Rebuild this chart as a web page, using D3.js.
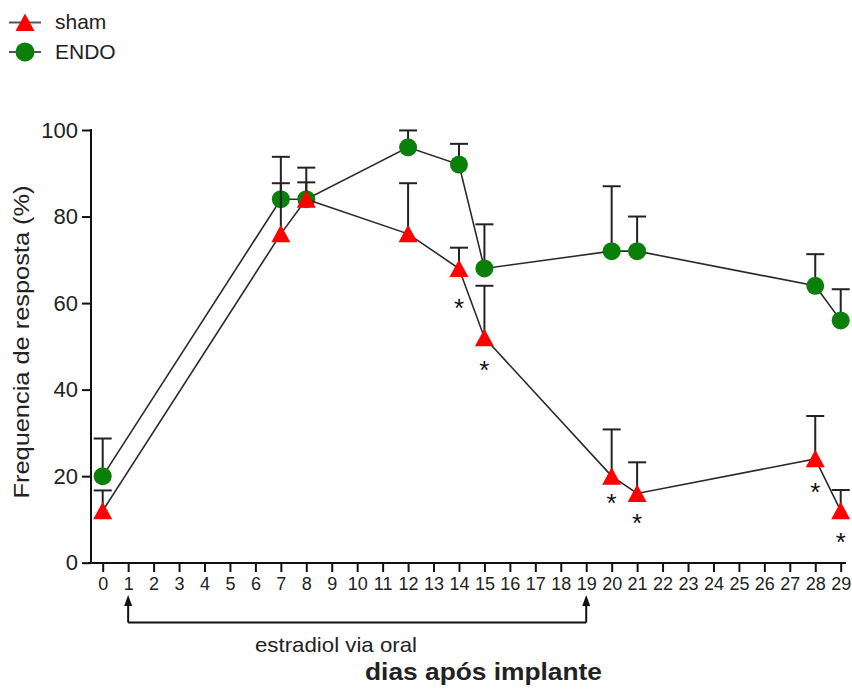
<!DOCTYPE html>
<html>
<head>
<meta charset="utf-8">
<script src="https://cdn.jsdelivr.net/npm/d3@7"></script>
<style>
  body { margin: 0; background: #fff; }
  svg { display: block; font-family: "Liberation Sans", Arial, sans-serif; }
</style>
</head>
<body>
<div id="chart"></div>
<script>
/* data */
const days = [0, 7, 8, 12, 14, 15, 20, 21, 28, 29];
const sham = [12, 76, 84, 76, 68, 52, 20, 16, 24, 12];
const shamErr = [4.7, 11.7, 3.9, 11.7, 4.8, 12, 10.8, 7.2, 9.9, 4.8];
const endo = [20, 84, 84, 96, 92, 68, 72, 72, 64, 56];
const endoErr = [8.7, 9.8, 7.3, 3.9, 4.8, 10.2, 15, 8, 7.3, 7.2];
const starDays = [14, 15, 20, 21, 28, 29];
const starVals = [59.6, 45.3, 14.5, 9.9, 17, 5.4];
const xTicks = [0, 1, 2, 3, 4, 5, 6, 7, 8, 9, 10, 11, 12, 13, 14, 15, 16, 17, 18, 19, 20, 21, 22, 23, 24, 25, 26, 27, 28, 29];
const yTicks = [0, 20, 40, 60, 80, 100];
const treatDays = [1, 19];

const width = 852, height = 690;
const red = "#ff0000", green = "#0a7f0a", ink = "#222";

const svg = d3.select("#chart")
  .append("svg")
  .attr("width", width)
  .attr("height", height);

svg.append("rect").attr("width", width).attr("height", height).attr("fill", "#fff");

/* scales */
const x = d3.scaleLinear().domain([0, 29]).range([102.7, 840.7]);
const y = d3.scaleLinear().domain([0, 100]).range([562.7, 130]);

/* axes */
const xAxis = svg.append("g")
  .attr("transform", "translate(0,563)")
  .call(d3.axisBottom(x).tickValues(xTicks).tickSize(9).tickPadding(5).tickSizeOuter(0));
xAxis.select(".domain").remove();
xAxis.selectAll("line").attr("stroke", "#111").attr("stroke-width", 2);
xAxis.selectAll("text").attr("font-size", 18).attr("fill", ink).attr("font-family", "Liberation Sans, Arial, sans-serif");

const yAxis = svg.append("g")
  .attr("transform", "translate(91,0)")
  .call(d3.axisLeft(y).tickValues(yTicks).tickSize(9).tickPadding(4).tickSizeOuter(0));
yAxis.select(".domain").remove();
yAxis.selectAll("line").attr("stroke", "#111").attr("stroke-width", 2);
yAxis.selectAll("text").attr("font-size", 22).attr("fill", ink).attr("font-family", "Liberation Sans, Arial, sans-serif");

svg.append("line").attr("x1", 91).attr("x2", 91).attr("y1", y(100) - 1).attr("y2", 564)
  .attr("stroke", "#111").attr("stroke-width", 2);
svg.append("line").attr("x1", 88).attr("x2", 846).attr("y1", 563).attr("y2", 563)
  .attr("stroke", "#111").attr("stroke-width", 2);

/* axis titles */
svg.append("text")
  .attr("transform", "translate(29,342) rotate(-90)")
  .attr("text-anchor", "middle")
  .attr("font-size", 22)
  .attr("textLength", 313)
  .attr("lengthAdjust", "spacingAndGlyphs")
  .attr("fill", ink)
  .text("Frequencia de resposta (%)");

svg.append("text")
  .attr("x", 365).attr("y", 680)
  .attr("font-size", 24)
  .attr("font-weight", "bold")
  .attr("textLength", 237)
  .attr("lengthAdjust", "spacingAndGlyphs")
  .attr("fill", ink)
  .text("dias após implante");

/* estradiol bracket */
const bracket = svg.append("g").attr("stroke", "#111").attr("fill", "#111");
bracket.append("line")
  .attr("x1", x(treatDays[0])).attr("x2", x(treatDays[1]))
  .attr("y1", 622.5).attr("y2", 622.5).attr("stroke-width", 2);
for (let d of treatDays) {
  bracket.append("line")
    .attr("x1", x(d)).attr("x2", x(d)).attr("y1", 622.5).attr("y2", 604)
    .attr("stroke-width", 2);
  bracket.append("path")
    .attr("d", `M${x(d)},595 L${x(d) + 4},606 L${x(d) - 4},606 Z`)
    .attr("stroke", "none");
}
svg.append("text")
  .attr("x", 255).attr("y", 652)
  .attr("font-size", 21)
  .attr("textLength", 162)
  .attr("lengthAdjust", "spacingAndGlyphs")
  .attr("fill", ink)
  .text("estradiol via oral");

/* series drawing */
const triangle = "M0,-9 L9.5,8.5 L-9.5,8.5 Z";

function drawSeries(vals, errs, shape, color) {
  const pts = days.map((d, i) => ({ d: d, v: vals[i], e: errs[i] }));

  let line = d3.line().x(p => x(p.d)).y(p => y(p.v));
  svg.append("path")
    .datum(pts)
    .attr("d", line)
    .attr("fill", "none")
    .attr("stroke", "#2a2a2a")
    .attr("stroke-width", 1.6);

  const bars = svg.append("g").attr("stroke", "#222").attr("stroke-width", 2);
  bars.selectAll(".v").data(pts).join("line")
    .attr("x1", p => x(p.d)).attr("x2", p => x(p.d))
    .attr("y1", p => y(p.v)).attr("y2", p => y(p.v + p.e));
  bars.selectAll(".cap").data(pts).join("line")
    .attr("x1", p => x(p.d) - 9).attr("x2", p => x(p.d) + 9)
    .attr("y1", p => y(p.v + p.e)).attr("y2", p => y(p.v + p.e));

  if (shape === "circle") {
    svg.append("g").selectAll("circle").data(pts).join("circle")
      .attr("cx", p => x(p.d)).attr("cy", p => y(p.v)).attr("r", 9)
      .attr("fill", color);
  } else {
    svg.append("g").selectAll("path").data(pts).join("path")
      .attr("transform", p => `translate(${x(p.d)},${y(p.v)})`)
      .attr("d", triangle)
      .attr("fill", color);
  }
}

drawSeries(endo, endoErr, "circle", green);
drawSeries(sham, shamErr, "triangle", red);

/* significance stars */
svg.append("g").selectAll("text").data(starDays).join("text")
  .attr("x", (d, i) => x(d))
  .attr("y", (d, i) => y(starVals[i]) + 12)
  .attr("text-anchor", "middle")
  .attr("font-size", 26)
  .attr("fill", "#111")
  .text("*");

/* legend */
const legend = svg.append("g");
const legendItems = [
  { name: "sham", shape: "triangle", color: red, cy: 22.5 },
  { name: "ENDO", shape: "circle", color: green, cy: 52 }
];
for (let item of legendItems) {
  legend.append("line")
    .attr("x1", 9).attr("x2", 41).attr("y1", item.cy).attr("y2", item.cy)
    .attr("stroke", "#555").attr("stroke-width", 2);
  if (item.shape === "circle") {
    legend.append("circle").attr("cx", 25).attr("cy", item.cy).attr("r", 9.5).attr("fill", item.color);
  } else {
    legend.append("path").attr("transform", `translate(25,${item.cy})`).attr("d", triangle).attr("fill", item.color);
  }
  legend.append("text")
    .attr("x", 55).attr("y", item.cy + 6.5)
    .attr("font-size", 21)
    .attr("fill", ink)
    .text(item.name);
}
</script>
</body>
</html>
